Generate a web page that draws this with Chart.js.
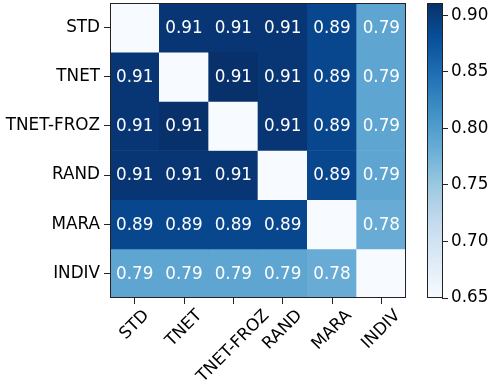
<!DOCTYPE html>
<html>
<head>
<meta charset="utf-8">
<script src="https://cdn.jsdelivr.net/npm/chart.js@4"></script>
<style>body{margin:0;background:#fff}</style>
</head>
<body>
<canvas id="heat" width="490" height="384"></canvas>
<script>
// row / column names (same order on both axes)
const labels = ['STD', 'TNET', 'TNET-FROZ', 'RAND', 'MARA', 'INDIV'];

// similarity values, null on the diagonal
const rowSTD   = [null, 0.906, 0.906, 0.906, 0.888, 0.791];
const rowTNET  = [0.906, null, 0.911, 0.906, 0.888, 0.791];
const rowFROZ  = [0.906, 0.911, null, 0.906, 0.888, 0.791];
const rowRAND  = [0.906, 0.906, 0.906, null, 0.888, 0.791];
const rowMARA  = [0.888, 0.888, 0.888, 0.888, null, 0.783];
const rowINDIV = [0.791, 0.791, 0.791, 0.791, 0.783, null];
const values = [rowSTD, rowTNET, rowFROZ, rowRAND, rowMARA, rowINDIV];

const vmin = 0.65;
const vmax = 0.911;
const cbTicks = [0.65, 0.70, 0.75, 0.80, 0.85, 0.90];

// matplotlib "Blues"
const blues = ['#f7fbff', '#deebf7', '#c6dbef', '#9ecae1', '#6baed6', '#4292c6', '#2171b5', '#08519c', '#08306b'];
function hex(c) { return [1, 3, 5].map(i => parseInt(c.substr(i, 2), 16)); }
function blue(v) {
  if (v == null) return blues[0];
  const t = Math.min(1, Math.max(0, (v - vmin) / (vmax - vmin))) * 8;
  const i = Math.min(7, Math.floor(t));
  const f = t - i;
  const a = hex(blues[i]), b = hex(blues[i + 1]);
  return 'rgb(' + a.map((x, k) => Math.round(x + (b[k] - x) * f)).join(',') + ')';
}

const n = labels.length;
const FONT = 'DejaVu Sans';
const SIZE = 16.8;
Chart.defaults.font.family = FONT;

const datasets = values.map((row, r) => ({
  label: labels[r],
  data: row.map(() => [n - 1 - r, n - r]),
  backgroundColor: row.map(blue),
  grouped: false,
  barPercentage: 1,
  categoryPercentage: 1,
  borderWidth: 0
}));

const cellText = {
  id: 'cellText',
  afterDatasetsDraw(chart) {
    const ctx = chart.ctx;
    ctx.save();
    ctx.font = SIZE + 'px "' + FONT + '"';
    ctx.fillStyle = '#fff';
    ctx.textAlign = 'center';
    ctx.textBaseline = 'middle';
    values.forEach((row, r) => {
      chart.getDatasetMeta(r).data.forEach((bar, c) => {
        if (row[c] == null) return;
        ctx.fillText(row[c].toFixed(2), bar.x, (bar.y + bar.base) / 2 + 1);
      });
    });
    ctx.restore();
  }
};

const frame = {
  id: 'frame',
  afterDraw(chart) {
    const {ctx, chartArea: a, scales} = chart;
    const cb = scales.cb, x = scales.x;
    ctx.save();
    ctx.strokeStyle = '#222';
    ctx.lineWidth = 1;
    ctx.strokeRect(a.left + 0.5, a.top + 0.5, a.right - a.left - 1, a.bottom - a.top - 1);

    // colorbar
    const top = cb.getPixelForValue(vmax), bot = cb.getPixelForValue(vmin);
    const g = ctx.createLinearGradient(0, bot, 0, top);
    blues.forEach((c, i) => g.addColorStop(i / 8, c));
    ctx.fillStyle = g;
    ctx.fillRect(cb.left - 15, top, 15, bot - top);
    ctx.strokeRect(cb.left - 15 + 0.5, top + 0.5, 15, bot - top - 1);

    // rotated x labels, centred on the ticks
    ctx.font = SIZE + 'px "' + FONT + '"';
    ctx.fillStyle = '#000';
    ctx.textAlign = 'center';
    ctx.textBaseline = 'middle';
    labels.forEach((l, i) => {
      const px = x.getPixelForTick(i);
      const w = ctx.measureText(l).width, h = 17;
      const cy = a.bottom + 9 + (w + h) * Math.SQRT1_2 / 2;
      ctx.save();
      ctx.translate(px, cy);
      ctx.rotate(-Math.PI / 4);
      ctx.fillText(l, 0, 0);
      ctx.restore();
    });
    ctx.restore();
  }
};

new Chart(document.getElementById('heat'), {
  type: 'bar',
  data: {labels: labels, datasets: datasets},
  options: {
    responsive: false,
    animation: false,
    events: [],
    layout: {padding: {top: 3, left: 0, right: 0, bottom: 0}},
    plugins: {legend: {display: false}, tooltip: {enabled: false}},
    scales: {
      x: {
        type: 'category',
        offset: true,
        grid: {offset: false, drawOnChartArea: false, tickLength: 6, color: '#222'},
        border: {display: false},
        ticks: {display: false},
        afterFit(s) { s.height = 86; }
      },
      y: {
        type: 'linear',
        min: 0,
        max: n,
        grid: {drawOnChartArea: false, tickLength: 6, color: '#222'},
        border: {display: false},
        afterBuildTicks(s) { s.ticks = labels.map((_, i) => ({value: n - 0.5 - i})); },
        ticks: {
          callback: (v, i) => labels[i],
          font: {size: SIZE},
          color: '#000',
          padding: 4
        },
        afterFit(s) { s.width = 110; s.paddingTop = 0; s.paddingBottom = 0; }
      },
      gap: {
        type: 'linear',
        position: 'right',
        weight: 0,
        grid: {display: false},
        border: {display: false},
        ticks: {display: false},
        afterFit(s) { s.width = 36; }
      },
      cb: {
        type: 'linear',
        position: 'right',
        weight: 1,
        min: vmin,
        max: vmax,
        grid: {drawOnChartArea: false, tickLength: 6, color: '#222'},
        border: {display: false},
        afterBuildTicks(s) { s.ticks = cbTicks.map(v => ({value: v})); },
        ticks: {
          callback: v => v.toFixed(2),
          font: {size: SIZE},
          color: '#000',
          padding: 3
        },
        afterFit(s) { s.width = 48; s.paddingTop = 0; s.paddingBottom = 0; }
      }
    }
  },
  plugins: [cellText, frame]
});
</script>
</body>
</html>
